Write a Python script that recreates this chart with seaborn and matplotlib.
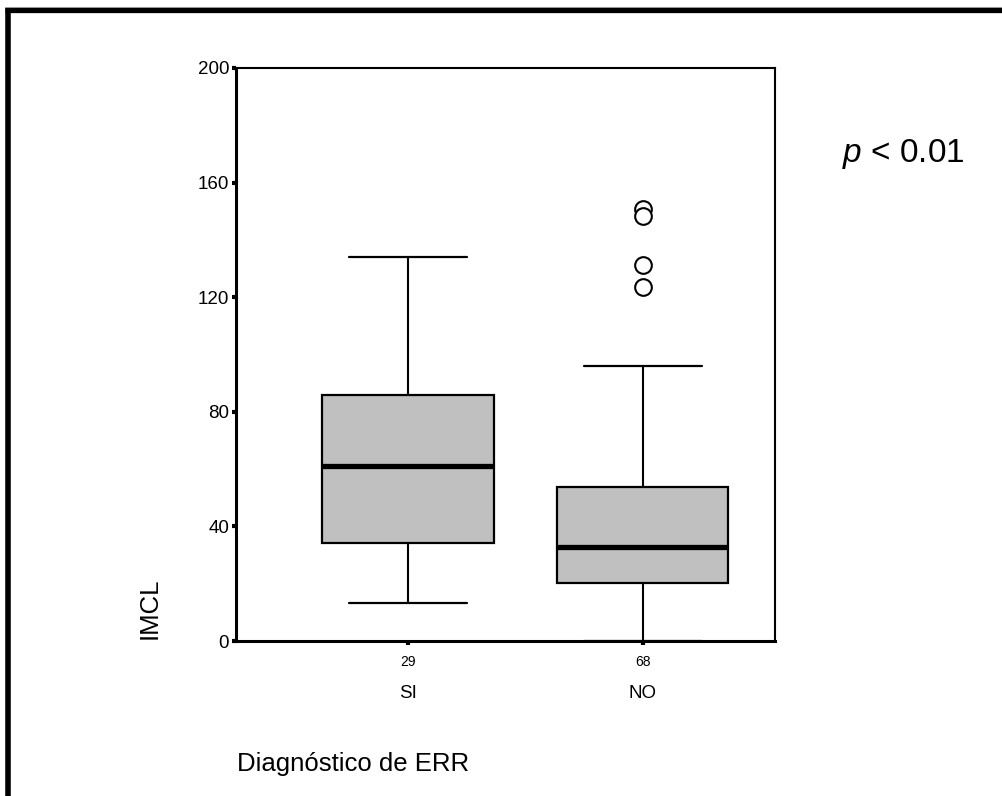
import matplotlib
matplotlib.use("Agg")
import matplotlib.pyplot as plt
from matplotlib.lines import Line2D
import seaborn as sns
import pandas as pd

# ---- data ----
categories = ["SI", "NO"]
counts = [29, 68]
# five-number summaries: lower whisker, Q1, median, Q3, upper whisker
si_summary = [13.2, 34.2, 61.0, 85.8, 134.0]
no_summary = [0.0, 20.1, 32.7, 53.6, 96.0]
no_outliers = [150.9, 148.2, 131.1, 123.4]
y_ticks = [0, 40, 80, 120, 160, 200]

sns.set_style("white")
plt.rcParams["font.family"] = ["Liberation Sans", "DejaVu Sans"]
plt.rcParams["mathtext.fontset"] = "custom"
plt.rcParams["mathtext.it"] = "Liberation Sans:italic"
plt.rcParams["mathtext.rm"] = "Liberation Sans"
for key in ["text.color", "axes.labelcolor", "xtick.color", "ytick.color"]:
    plt.rcParams[key] = "black"

W, H = 1002, 796
fig = plt.figure(figsize=(W / 100, H / 100), dpi=100)
fig.patch.set_facecolor("white")
ax = fig.add_axes([236 / W, 1 - 641 / H, (775 - 236) / W, (641 - 68) / H])

box_df = pd.DataFrame({
    "grupo": ["SI"] * len(si_summary) + ["NO"] * len(no_summary),
    "IMCL": si_summary + no_summary,
})
out_df = pd.DataFrame({"grupo": ["NO"] * len(no_outliers), "IMCL": no_outliers})

sns.boxplot(
    data=box_df, x="grupo", y="IMCL", order=categories, ax=ax,
    color="#c0c0c0", width=0.728, whis=1.5, fliersize=0,
    linecolor="black", linewidth=1.5, capwidths=0.506,
    boxprops={"edgecolor": "black", "linewidth": 1.6, "facecolor": "#c0c0c0"},
    whiskerprops={"color": "black", "linewidth": 1.5},
    capprops={"color": "black", "linewidth": 1.6},
    medianprops={"color": "black", "linewidth": 3.8},
)
sns.stripplot(
    data=out_df, x="grupo", y="IMCL", order=categories, ax=ax,
    jitter=False, marker="o", size=12, color="white",
    edgecolor="black", linewidth=1.5, zorder=5,
)

ax.set_xlim(-0.732, 1.562)
ax.set_ylim(0, 200)
ax.set_yticks(y_ticks)
ax.set_yticklabels([str(v) for v in y_ticks], fontsize=13.5, color="black")
ax.set_xticks(range(len(categories)))
ax.set_xticklabels([str(c) for c in counts], fontsize=10, color="black")
ax.set_xlabel("")
ax.set_ylabel("")
ax.tick_params(axis="y", direction="out", length=3, width=3, color="black", pad=2, left=True)
ax.tick_params(axis="x", direction="out", length=3, width=3, color="black", pad=7, bottom=True)

for side, lw in [("left", 2.2), ("bottom", 2.2), ("top", 1.5), ("right", 1.5)]:
    ax.spines[side].set_visible(True)
    ax.spines[side].set_color("black")
    ax.spines[side].set_linewidth(lw)

xform = ax.get_xaxis_transform()
for i, name in enumerate(categories):
    ax.text(i, -(694 - 641) / (641 - 68), name, transform=xform,
            ha="center", va="center", fontsize=13.5, color="black")

fig.text(237 / W, 1 - 771 / H, "Diagnóstico de ERR", ha="left", va="baseline",
         fontsize=18.5, color="black")
fig.text(150 / W, 1 - 608.5 / H, "IMCL", ha="center", va="center", rotation=90,
         fontsize=18.5, color="black")
fig.text(842 / W, 1 - 162 / H, "$p$ < 0.01", ha="left", va="baseline",
         fontsize=24, color="black")

# frame lines of the original figure (top and left only)
fig.add_artist(Line2D([5 / W, 1], [1 - 6.5 / H, 1 - 6.5 / H], color="#b0b0b0", linewidth=0.8,
                      transform=fig.transFigure))
fig.add_artist(Line2D([5 / W, 1], [1 - 10 / H, 1 - 10 / H], color="black", linewidth=3.8,
                      transform=fig.transFigure, solid_capstyle="butt"))
fig.add_artist(Line2D([8 / W, 8 / W], [0, 1 - 8 / H], color="black", linewidth=4.0,
                      transform=fig.transFigure, solid_capstyle="butt"))

fig.savefig("out.png", dpi=100, facecolor="white")
